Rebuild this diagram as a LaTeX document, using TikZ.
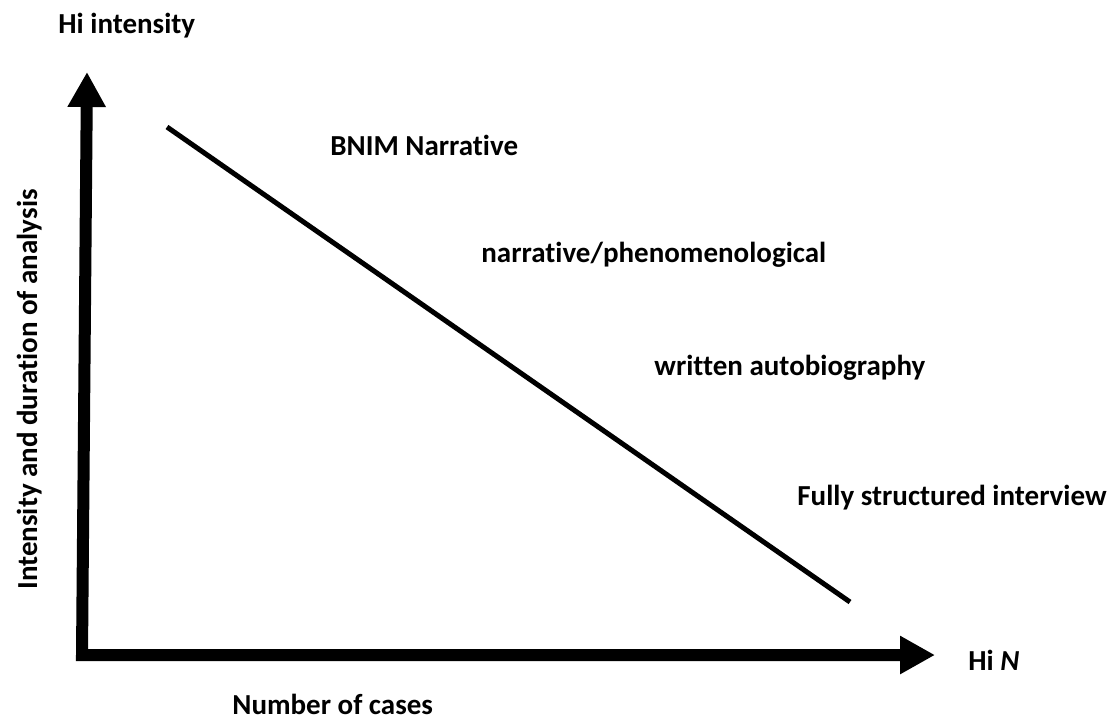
\documentclass[tikz,border=0pt]{standalone}
\usepackage{fontspec}
\setmainfont[Ligatures=NoCommon]{Carlito}
\usepackage{tikz}
\usetikzlibrary{positioning,arrows.meta}

\begin{document}
\begin{tikzpicture}[
x=0.5pt,
y=-0.5pt,
axis/.style={
line width=6pt,
line join=miter,
{Triangle[length=17.5pt,width=18pt]}-{Triangle[length=17.5pt,width=18pt]}
},
trend/.style={
line width=2.5pt
},
lbl/.style={
anchor=base west,
inner sep=0pt,
font=\fontsize{14.5}{17}\selectfont\bfseries
}
]

\useasboundingbox (0,0) rectangle (1111,720);

%%%%%%%%%%%%%%%%%%%%%%%%%%%%%%%%%%%%%%%%%%%%%
% Axes
%%%%%%%%%%%%%%%%%%%%%%%%%%%%%%%%%%%%%%%%%%%%%

\coordinate (origin) at (82,655);
\coordinate (ytip) at (87,72);
\coordinate (xtip) at (935,655);

\draw[axis] (ytip)--(origin)--(xtip);

%%%%%%%%%%%%%%%%%%%%%%%%%%%%%%%%%%%%%%%%%%%%%
% Trend line
%%%%%%%%%%%%%%%%%%%%%%%%%%%%%%%%%%%%%%%%%%%%%

\coordinate (hiend) at (167,127);
\coordinate (loend) at (850,602);

\draw[trend] (hiend)--(loend);

%%%%%%%%%%%%%%%%%%%%%%%%%%%%%%%%%%%%%%%%%%%%%
% Labels
%%%%%%%%%%%%%%%%%%%%%%%%%%%%%%%%%%%%%%%%%%%%%

\node[lbl] (hiint) at (58,33) {Hi intensity};

\node[lbl] (hin) at (968,670) {Hi \textit{N}};

\node[lbl] (cases) at (232,714) {Number of cases};

\node[lbl, rotate=90] (intensity) at (37,590)
{Intensity and duration of analysis};

\node[lbl] (bnim) at (330,155) {BNIM Narrative};

\node[lbl] (narr) at (481,262) {narrative/phenomenological};

\node[lbl] (written) at (654,375) {written autobiography};

\node[lbl] (fully) at (797,505) {Fully structured interview};

\end{tikzpicture}
\end{document}
